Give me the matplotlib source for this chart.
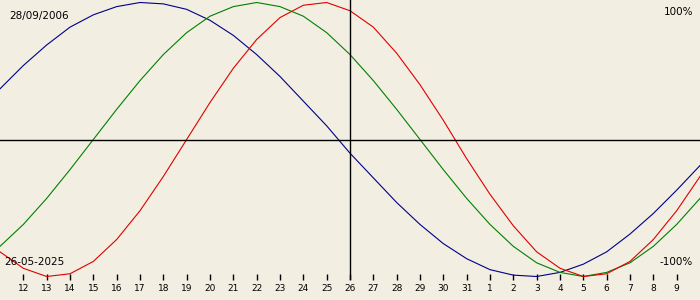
import numpy as np
import matplotlib
matplotlib.use('Agg')
import matplotlib.pyplot as plt

# days shown (11 May 2025 .. 10 June 2025), centre day is 26-05-2025
days = [11, 12, 13, 14, 15, 16, 17, 18, 19, 20, 21, 22, 23, 24, 25, 26,
        27, 28, 29, 30, 31, 1, 2, 3, 4, 5, 6, 7, 8, 9, 10]

# one value per day (-1 .. 1)
physical = [-0.82, -0.94, -1.00, -0.98, -0.89, -0.73, -0.52, -0.27, 0.00, 0.27,
            0.52, 0.73, 0.89, 0.98, 1.00, 0.94, 0.82, 0.63, 0.40, 0.14,
            -0.14, -0.40, -0.63, -0.82, -0.94, -1.00, -0.98, -0.89, -0.73, -0.52,
            -0.27]
emotional = [-0.78, -0.62, -0.43, -0.22, 0.00, 0.22, 0.43, 0.62, 0.78, 0.90,
             0.97, 1.00, 0.97, 0.90, 0.78, 0.62, 0.43, 0.22, 0.00, -0.22,
             -0.43, -0.62, -0.78, -0.90, -0.97, -1.00, -0.97, -0.90, -0.78, -0.62,
             -0.43]
intellectual = [0.37, 0.54, 0.69, 0.82, 0.91, 0.97, 1.00, 0.99, 0.95, 0.87,
                0.76, 0.62, 0.46, 0.28, 0.10, -0.10, -0.28, -0.46, -0.62, -0.76,
                -0.87, -0.95, -0.99, -1.00, -0.97, -0.91, -0.82, -0.69, -0.54, -0.37,
                -0.19]

birth = '28/09/2006'
today = '26-05-2025'

bg = '#f2eee2'
fig = plt.figure(figsize=(7, 3), dpi=100, facecolor=bg)
ax = fig.add_axes([0, 20 / 300, 1, 280 / 300], facecolor=bg)

t = np.arange(len(days))
ax.plot(t, intellectual, color='#000088', lw=0.8)
ax.plot(t, emotional, color='#008000', lw=0.8)
ax.plot(t, physical, color='#e00000', lw=0.8)

centre = days.index(26)
ax.axhline(0, color='black', lw=1)
ax.axvline(centre, color='black', lw=1)

ax.set_xlim(0, len(days) - 1)
ax.set_ylim(-(280 - 139.5) / 137, 139.5 / 137)
for s in ax.spines.values():
    s.set_visible(False)
ax.set_yticks([])
ax.set_xticks(t[1:-1])
ax.set_xticklabels([str(d) for d in days[1:-1]])
ax.tick_params(axis='x', direction='in', length=4, width=1, color='black',
               pad=3, labelsize=6.5, labelcolor='black')

fig.text(9 / 700, 1 - 16.5 / 300, birth, fontsize=7.5, va='center', ha='left')
fig.text(693 / 700, 1 - 12 / 300, '100%', fontsize=7.5, va='center', ha='right')
fig.text(4 / 700, 1 - 262 / 300, today, fontsize=7.5, va='center', ha='left')
fig.text(693 / 700, 1 - 262 / 300, '-100%', fontsize=7.5, va='center', ha='right')

plt.savefig('out.png', dpi=100, facecolor=bg)
